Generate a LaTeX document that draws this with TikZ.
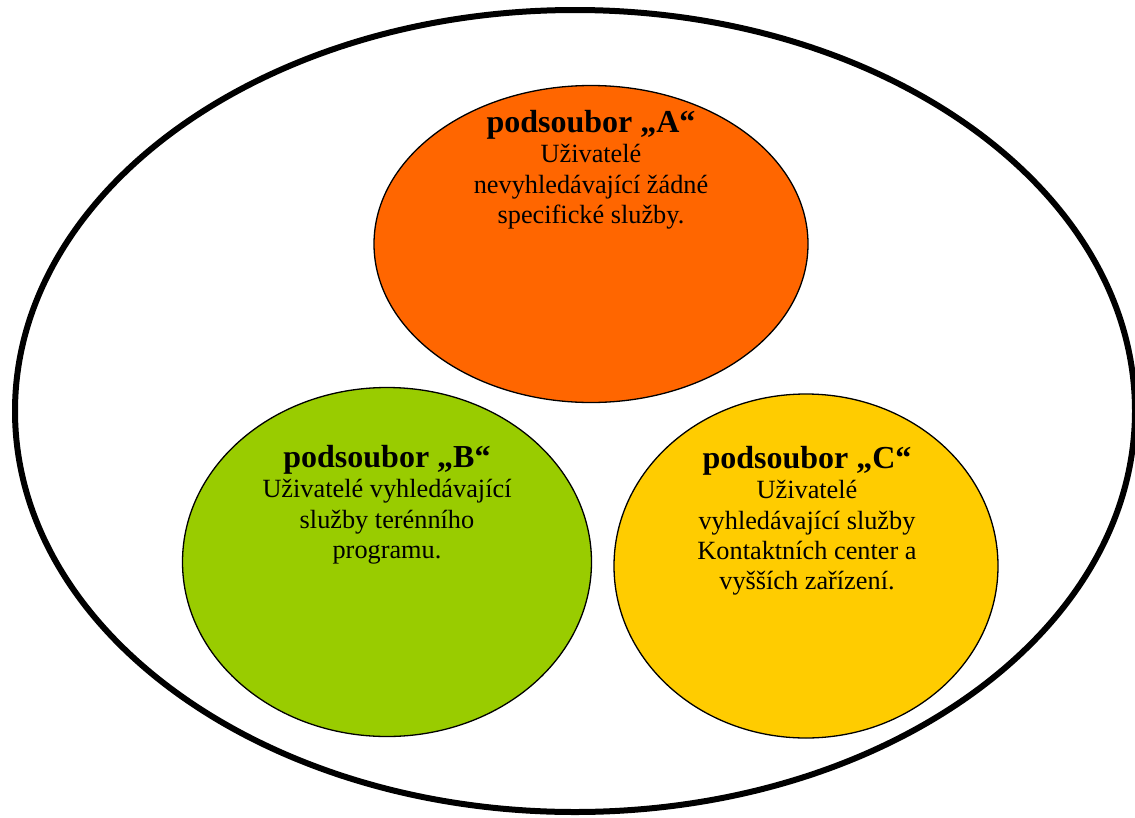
\documentclass[tikz,border=0pt]{standalone}
\usepackage{fontspec}
\setmainfont{Liberation Serif}
\usetikzlibrary{shapes.geometric}
\definecolor{setA}{HTML}{FF6600}
\definecolor{setB}{HTML}{99CC00}
\definecolor{setC}{HTML}{FFCC00}
\tikzset{
  subset/.style={ellipse, draw=black, line width=1.3pt, inner sep=0pt},
  outerset/.style={ellipse, draw=black, line width=6pt, inner sep=0pt},
  label/.style={align=center, anchor=north, inner sep=0pt, font=\fontsize{26.3}{30.3}\selectfont},
}
\newcommand{\ttl}[1]{{\fontsize{32}{30.3}\selectfont\bfseries #1}}
\begin{document}
\begin{tikzpicture}[x=1pt,y=-1pt]
\useasboundingbox (0,0) rectangle (1135,817);
\node[outerset, minimum width=1120pt, minimum height=802pt] (U) at (575,411) {};
\node[subset, fill=setA, minimum width=434pt, minimum height=317pt] (A) at (591,244) {};
\node[subset, fill=setB, minimum width=409pt, minimum height=349pt] (B) at (387,562) {};
\node[subset, fill=setC, minimum width=384pt, minimum height=344pt] (C) at (806,566) {};
\node[label] (tA) at (591,110) {\ttl{podsoubor „A“}\\Uživatelé\\nevyhledávající žádné\\specifické služby.};
\node[label] (tB) at (387,445) {\ttl{podsoubor „B“}\\Uživatelé vyhledávající\\služby terénního\\programu.};
\node[label] (tC) at (807,446) {\ttl{podsoubor „C“}\\Uživatelé\\vyhledávající služby\\Kontaktních center a\\vyšších zařízení.};
\end{tikzpicture}
\end{document}
